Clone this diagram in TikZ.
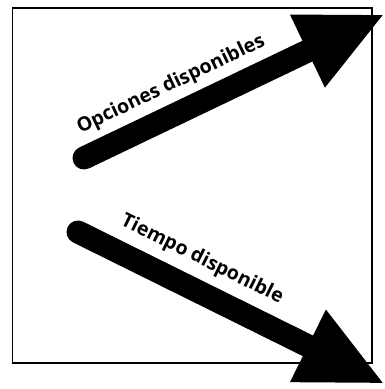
\documentclass[tikz,border=0pt]{standalone}
\usepackage{fontspec}
\setmainfont{Open Sans}
\usetikzlibrary{arrows.meta}

\begin{document}
\begin{tikzpicture}[x=1pt, y=1pt, font=\fontsize{19.5}{22}\selectfont\bfseries,
  bigarrow/.style={line width=23pt, line cap=round,
    -{Triangle[length=86pt, width=74pt]}}]
  \useasboundingbox (0,0) rectangle (385,389);
  % frame
  \draw[line width=1.5pt] (12.5,26) rectangle (372,381);
  % arrow A : options
  \coordinate (opcTail) at (84,231);
  \coordinate (opcTip) at (385,375);
  \draw[bigarrow] (opcTail) -- (opcTip)
    node[pos=0.33, above=6pt, sloped, inner sep=1pt] {Opciones disponibles};
  % arrow B : time
  \coordinate (tpoTail) at (78,157);
  \coordinate (tpoTip) at (385,5);
  \draw[bigarrow] (tpoTail) -- (tpoTip)
    node[pos=0.36, above=8pt, sloped, inner sep=1pt] {Tiempo disponible};
\end{tikzpicture}
\end{document}
